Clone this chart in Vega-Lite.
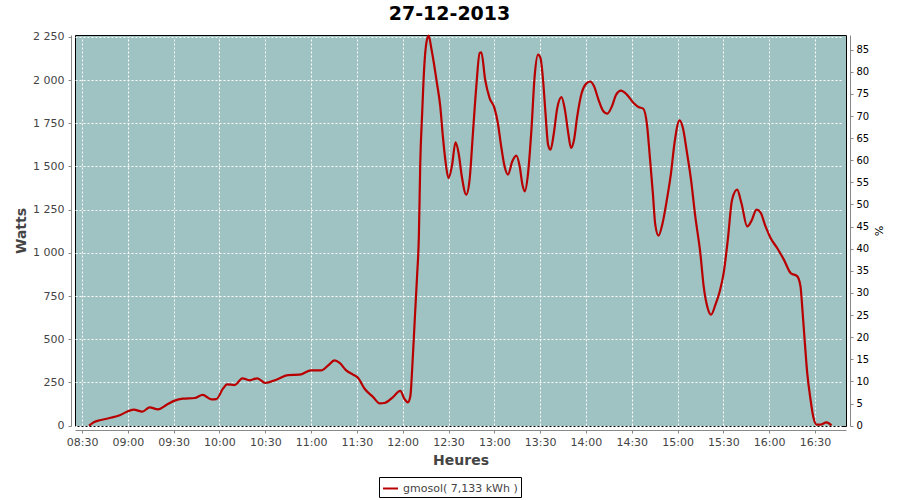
{
  "$schema": "https://vega.github.io/schema/vega-lite/v6.json",
  "width": 771,
  "height": 391,
  "autosize": "none",
  "padding": {"left": 75, "top": 35, "right": 54, "bottom": 74},
  "background": "white",
  "title": {"text": "27-12-2013", "font": "DejaVu Sans", "fontSize": 19, "fontWeight": "bold", "color": "#000", "anchor": "middle", "dx": -11, "offset": 7},
  "config": {
    "view": {"fill": "#9FC3C2", "stroke": "#000", "strokeWidth": 1},
    "axis": {"labelFont": "DejaVu Sans", "labelFontSize": 11, "labelColor": "#444", "titleFont": "DejaVu Sans", "titleFontSize": 14, "titleFontWeight": "bold", "titleColor": "#444", "domainColor": "#888", "tickColor": "#888", "tickSize": 3, "offset": 4, "gridColor": "#fff", "gridDash": [2, 2], "gridOpacity": 1, "gridWidth": 1},
    "legend": {"labelFont": "DejaVu Sans", "labelFontSize": 11, "labelColor": "#444"}
  },
  "data": {"values": [
    {"t": "2013-12-27T08:34:36", "w": 0},
    {"t": "2013-12-27T08:38:00", "w": 21},
    {"t": "2013-12-27T08:41:36", "w": 31},
    {"t": "2013-12-27T08:48:00", "w": 44},
    {"t": "2013-12-27T08:54:42", "w": 60},
    {"t": "2013-12-27T08:59:00", "w": 79},
    {"t": "2013-12-27T09:03:48", "w": 93},
    {"t": "2013-12-27T09:09:30", "w": 81},
    {"t": "2013-12-27T09:14:18", "w": 106},
    {"t": "2013-12-27T09:19:42", "w": 94},
    {"t": "2013-12-27T09:25:12", "w": 120},
    {"t": "2013-12-27T09:30:42", "w": 145},
    {"t": "2013-12-27T09:36:00", "w": 156},
    {"t": "2013-12-27T09:43:48", "w": 160},
    {"t": "2013-12-27T09:49:00", "w": 178},
    {"t": "2013-12-27T09:54:42", "w": 152},
    {"t": "2013-12-27T09:58:00", "w": 154},
    {"t": "2013-12-27T10:02:18", "w": 214},
    {"t": "2013-12-27T10:05:00", "w": 239},
    {"t": "2013-12-27T10:10:00", "w": 235},
    {"t": "2013-12-27T10:15:00", "w": 274},
    {"t": "2013-12-27T10:19:42", "w": 262},
    {"t": "2013-12-27T10:24:48", "w": 274},
    {"t": "2013-12-27T10:30:00", "w": 247},
    {"t": "2013-12-27T10:37:12", "w": 266},
    {"t": "2013-12-27T10:44:48", "w": 293},
    {"t": "2013-12-27T10:52:30", "w": 295},
    {"t": "2013-12-27T11:00:00", "w": 320},
    {"t": "2013-12-27T11:06:42", "w": 320},
    {"t": "2013-12-27T11:11:00", "w": 347},
    {"t": "2013-12-27T11:15:24", "w": 378},
    {"t": "2013-12-27T11:18:42", "w": 363},
    {"t": "2013-12-27T11:23:00", "w": 320},
    {"t": "2013-12-27T11:27:30", "w": 295},
    {"t": "2013-12-27T11:30:48", "w": 276},
    {"t": "2013-12-27T11:35:12", "w": 212},
    {"t": "2013-12-27T11:40:36", "w": 166},
    {"t": "2013-12-27T11:45:00", "w": 129},
    {"t": "2013-12-27T11:48:00", "w": 131},
    {"t": "2013-12-27T11:53:30", "w": 164},
    {"t": "2013-12-27T11:58:24", "w": 201},
    {"t": "2013-12-27T12:01:12", "w": 154},
    {"t": "2013-12-27T12:03:24", "w": 135},
    {"t": "2013-12-27T12:05:00", "w": 170},
    {"t": "2013-12-27T12:06:18", "w": 343},
    {"t": "2013-12-27T12:08:00", "w": 632},
    {"t": "2013-12-27T12:09:24", "w": 864},
    {"t": "2013-12-27T12:10:36", "w": 1100},
    {"t": "2013-12-27T12:11:30", "w": 1520},
    {"t": "2013-12-27T12:12:48", "w": 1819},
    {"t": "2013-12-27T12:14:00", "w": 2060},
    {"t": "2013-12-27T12:15:30", "w": 2215},
    {"t": "2013-12-27T12:17:00", "w": 2257},
    {"t": "2013-12-27T12:18:42", "w": 2186},
    {"t": "2013-12-27T12:20:24", "w": 2099},
    {"t": "2013-12-27T12:22:24", "w": 1983},
    {"t": "2013-12-27T12:24:36", "w": 1848},
    {"t": "2013-12-27T12:26:18", "w": 1674},
    {"t": "2013-12-27T12:27:54", "w": 1539},
    {"t": "2013-12-27T12:30:00", "w": 1433},
    {"t": "2013-12-27T12:32:12", "w": 1501},
    {"t": "2013-12-27T12:34:36", "w": 1640},
    {"t": "2013-12-27T12:36:36", "w": 1578},
    {"t": "2013-12-27T12:38:42", "w": 1443},
    {"t": "2013-12-27T12:41:36", "w": 1337},
    {"t": "2013-12-27T12:43:48", "w": 1424},
    {"t": "2013-12-27T12:46:00", "w": 1694},
    {"t": "2013-12-27T12:48:12", "w": 1964},
    {"t": "2013-12-27T12:50:24", "w": 2157},
    {"t": "2013-12-27T12:51:30", "w": 2160},
    {"t": "2013-12-27T12:54:00", "w": 2002},
    {"t": "2013-12-27T12:56:54", "w": 1896},
    {"t": "2013-12-27T13:00:06", "w": 1838},
    {"t": "2013-12-27T13:02:18", "w": 1752},
    {"t": "2013-12-27T13:04:30", "w": 1616},
    {"t": "2013-12-27T13:06:42", "w": 1501},
    {"t": "2013-12-27T13:08:54", "w": 1453},
    {"t": "2013-12-27T13:11:48", "w": 1530},
    {"t": "2013-12-27T13:14:24", "w": 1563},
    {"t": "2013-12-27T13:16:36", "w": 1501},
    {"t": "2013-12-27T13:18:24", "w": 1395},
    {"t": "2013-12-27T13:19:54", "w": 1356},
    {"t": "2013-12-27T13:22:06", "w": 1462},
    {"t": "2013-12-27T13:24:18", "w": 1713},
    {"t": "2013-12-27T13:26:24", "w": 2021},
    {"t": "2013-12-27T13:28:36", "w": 2147},
    {"t": "2013-12-27T13:30:12", "w": 2128},
    {"t": "2013-12-27T13:31:54", "w": 2002},
    {"t": "2013-12-27T13:33:30", "w": 1810},
    {"t": "2013-12-27T13:35:12", "w": 1626},
    {"t": "2013-12-27T13:36:48", "w": 1597},
    {"t": "2013-12-27T13:39:00", "w": 1694},
    {"t": "2013-12-27T13:41:12", "w": 1838},
    {"t": "2013-12-27T13:44:00", "w": 1902},
    {"t": "2013-12-27T13:46:12", "w": 1829},
    {"t": "2013-12-27T13:48:24", "w": 1694},
    {"t": "2013-12-27T13:50:12", "w": 1607},
    {"t": "2013-12-27T13:52:12", "w": 1655},
    {"t": "2013-12-27T13:54:18", "w": 1790},
    {"t": "2013-12-27T13:57:12", "w": 1925},
    {"t": "2013-12-27T14:00:06", "w": 1979},
    {"t": "2013-12-27T14:02:42", "w": 1992},
    {"t": "2013-12-27T14:05:18", "w": 1964},
    {"t": "2013-12-27T14:08:12", "w": 1887},
    {"t": "2013-12-27T14:11:00", "w": 1825},
    {"t": "2013-12-27T14:14:00", "w": 1806},
    {"t": "2013-12-27T14:17:00", "w": 1848},
    {"t": "2013-12-27T14:19:48", "w": 1916},
    {"t": "2013-12-27T14:22:54", "w": 1939},
    {"t": "2013-12-27T14:26:48", "w": 1916},
    {"t": "2013-12-27T14:31:12", "w": 1867},
    {"t": "2013-12-27T14:34:24", "w": 1844},
    {"t": "2013-12-27T14:37:30", "w": 1835},
    {"t": "2013-12-27T14:40:00", "w": 1740},
    {"t": "2013-12-27T14:42:00", "w": 1539},
    {"t": "2013-12-27T14:43:48", "w": 1347},
    {"t": "2013-12-27T14:45:24", "w": 1163},
    {"t": "2013-12-27T14:47:30", "w": 1100},
    {"t": "2013-12-27T14:50:12", "w": 1173},
    {"t": "2013-12-27T14:53:00", "w": 1308},
    {"t": "2013-12-27T14:55:42", "w": 1462},
    {"t": "2013-12-27T14:58:00", "w": 1636},
    {"t": "2013-12-27T15:01:18", "w": 1767},
    {"t": "2013-12-27T15:03:30", "w": 1723},
    {"t": "2013-12-27T15:06:12", "w": 1578},
    {"t": "2013-12-27T15:08:48", "w": 1424},
    {"t": "2013-12-27T15:11:36", "w": 1211},
    {"t": "2013-12-27T15:14:54", "w": 999},
    {"t": "2013-12-27T15:17:06", "w": 806},
    {"t": "2013-12-27T15:19:42", "w": 681},
    {"t": "2013-12-27T15:21:54", "w": 642},
    {"t": "2013-12-27T15:24:48", "w": 700},
    {"t": "2013-12-27T15:27:36", "w": 777},
    {"t": "2013-12-27T15:30:12", "w": 884},
    {"t": "2013-12-27T15:32:54", "w": 1076},
    {"t": "2013-12-27T15:35:42", "w": 1308},
    {"t": "2013-12-27T15:39:00", "w": 1366},
    {"t": "2013-12-27T15:41:48", "w": 1289},
    {"t": "2013-12-27T15:45:36", "w": 1153},
    {"t": "2013-12-27T15:48:12", "w": 1182},
    {"t": "2013-12-27T15:51:42", "w": 1250},
    {"t": "2013-12-27T15:54:18", "w": 1234},
    {"t": "2013-12-27T15:57:36", "w": 1153},
    {"t": "2013-12-27T16:00:54", "w": 1086},
    {"t": "2013-12-27T16:05:12", "w": 1028},
    {"t": "2013-12-27T16:09:36", "w": 961},
    {"t": "2013-12-27T16:14:00", "w": 884},
    {"t": "2013-12-27T16:18:24", "w": 864},
    {"t": "2013-12-27T16:20:30", "w": 806},
    {"t": "2013-12-27T16:21:36", "w": 690},
    {"t": "2013-12-27T16:23:12", "w": 498},
    {"t": "2013-12-27T16:24:54", "w": 305},
    {"t": "2013-12-27T16:27:06", "w": 150},
    {"t": "2013-12-27T16:28:48", "w": 54},
    {"t": "2013-12-27T16:31:00", "w": 6},
    {"t": "2013-12-27T16:33:36", "w": 6},
    {"t": "2013-12-27T16:37:30", "w": 19},
    {"t": "2013-12-27T16:40:48", "w": 2}
  ]},
  "encoding": {
    "x": {"field": "t", "type": "temporal",
      "scale": {"domain": [{"year": 2013, "month": 12, "date": 27, "hours": 8, "minutes": 25, "seconds": 24}, {"year": 2013, "month": 12, "date": 27, "hours": 16, "minutes": 50, "seconds": 18}], "nice": false},
      "axis": {"title": "Heures", "format": "%H:%M", "tickCount": 17, "grid": true, "labelPadding": 3, "titlePadding": 6}}
  },
  "layer": [
    {
      "mark": {"type": "line", "interpolate": "monotone", "strokeWidth": 2.2},
      "encoding": {
        "y": {"field": "w", "type": "quantitative", "scale": {"domain": [-2, 2261], "nice": false, "zero": false},
          "axis": {"title": "Watts", "values": [0, 250, 500, 750, 1000, 1250, 1500, 1750, 2000, 2250], "labelExpr": "replace(format(datum.value, ','), ',', ' ')", "grid": true, "labelPadding": 4}},
        "color": {"datum": "gmosol( 7,133 kWh )", "type": "nominal", "scale": {"range": ["#B80000"]},
          "legend": {"title": null, "orient": "none", "legendX": 304, "legendY": 442, "direction": "horizontal", "strokeColor": "#000", "fillColor": "#fff", "padding": 3, "symbolType": "stroke", "symbolStrokeWidth": 2, "symbolSize": 225}}
      }
    },
    {
      "mark": {"type": "line", "strokeOpacity": 0},
      "encoding": {
        "y": {"field": "w", "type": "quantitative", "scale": {"domain": [-2, 2261], "nice": false, "zero": false},
          "axis": {"orient": "right", "title": "%", "titleFontSize": 11, "titleFontWeight": "normal", "titleAngle": 90, "titleColor": "#000", "values": [0, 128, 256, 384, 512, 640, 768, 896, 1024, 1152, 1280, 1408, 1536, 1664, 1792, 1920, 2048, 2176], "labelExpr": "format(datum.value / 25.6, 'd')", "grid": false, "labelColor": "#000", "labelFontSize": 10, "labelPadding": 3}}
      }
    }
  ],
  "resolve": {"scale": {"y": "independent"}}
}
